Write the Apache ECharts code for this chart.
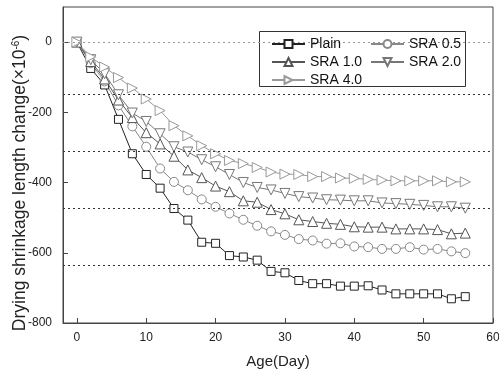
<!DOCTYPE html>
<html>
<head>
<meta charset="utf-8">
<script src="https://cdn.jsdelivr.net/npm/echarts@6/dist/echarts.min.js"></script>
<style>
  html, body { margin: 0; padding: 0; background: #fff; }
  #chart { width: 499px; height: 373px; }
</style>
</head>
<body>
<div id="chart"></div>
<script>
// Age in days
const days = [0, 2, 4, 6, 8, 10, 12, 14, 16, 18, 20, 22, 24, 26, 28, 30, 32, 34, 36, 38, 40, 42, 44, 46, 48, 50, 52, 54, 56];

// Drying shrinkage (×10^-6) per mix
const plain  = [0, -75, -122, -220, -318, -377, -416, -474, -507, -570, -573, -608, -612, -621, -653, -657, -679, -688, -688, -695, -695, -694, -706, -717, -717, -717, -717, -731, -725];
const sra05  = [0, -60, -112, -180, -240, -298, -360, -398, -422, -448, -469, -488, -506, -523, -539, -549, -561, -565, -574, -573, -582, -584, -589, -589, -584, -591, -589, -596, -601];
const sra10  = [0, -55, -105, -165, -215, -258, -290, -325, -364, -386, -410, -426, -452, -456, -477, -489, -506, -511, -516, -519, -526, -527, -527, -532, -532, -532, -534, -546, -544];
const sra20  = [0, -50, -90, -150, -202, -226, -261, -298, -313, -335, -355, -377, -400, -414, -421, -431, -440, -444, -449, -450, -452, -452, -458, -460, -462, -465, -469, -469, -473];
const sra40  = [0, -42, -71, -101, -131, -162, -195, -238, -267, -295, -318, -337, -346, -357, -370, -376, -377, -383, -383, -387, -388, -391, -393, -395, -395, -395, -395, -398, -398];

// Tick labels
const xTicks = [0, 10, 20, 30, 40, 50, 60];
const yTicks = [-800, -600, -400, -200, 0];

// Dotted reference levels
const refLevels = [-148, -310, -472, -636];
const zeroLevel = [0];

const FONT = 'Liberation Sans, Arial, sans-serif';

function pairs(vals) { return days.map((d, i) => [d, vals[i]]); }

function makeSeries(name, vals, color, symbol, size, rotate) {
  return {
    name: name,
    type: 'line',
    data: pairs(vals),
    symbol: symbol,
    symbolSize: size,
    symbolRotate: rotate || 0,
    showAllSymbol: true,
    lineStyle: { color: color, width: 1 },
    itemStyle: { color: '#fff', borderColor: color, borderWidth: 1 },
    emphasis: { disabled: true },
    animation: false,
    z: 3
  };
}

const chart = echarts.init(document.getElementById('chart'), null, { renderer: 'canvas' });

const series = [
  {
    name: 'refs',
    type: 'line',
    data: [],
    silent: true,
    animation: false,
    z: 1,
    markLine: {
      silent: true,
      symbol: 'none',
      label: { show: false },
      animation: false,
      data: refLevels.map(v => ({ yAxis: v, lineStyle: { type: [2, 3], color: '#333', width: 1 } }))
        .concat(zeroLevel.map(v => ({ yAxis: v, lineStyle: { type: [2, 3], color: '#999', width: 1 } })))
    }
  },
  makeSeries('Plain', plain, '#222', 'rect', 8),
  makeSeries('SRA 0.5', sra05, '#888', 'circle', 9),
  makeSeries('SRA 1.0', sra10, '#555', 'triangle', 10),
  makeSeries('SRA 2.0', sra20, '#777', 'triangle', 10, 180),
  makeSeries('SRA 4.0', sra40, '#999', 'triangle', 10, -90)
];

const legendCommon = {
  orient: 'vertical',
  padding: 0,
  itemWidth: 33,
  itemHeight: 10,
  itemGap: 4,
  selectedMode: false,
  textStyle: { fontFamily: FONT, fontSize: 14, color: '#111', lineHeight: 14 },
  z: 6
};

chart.setOption({
  animation: false,
  backgroundColor: '#fff',
  grid: {
    left: 63, right: 6, top: 7, bottom: 50,
    outerBoundsMode: 'none',
    containLabel: false,
    show: true, borderColor: '#444', borderWidth: 1, backgroundColor: 'transparent'
  },
  xAxis: {
    type: 'value',
    min: -2, max: 60,
    name: 'Age(Day)',
    nameLocation: 'middle',
    nameGap: 31,
    nameMoveOverlap: false,
    nameTextStyle: { fontFamily: FONT, fontSize: 15, color: '#222' },
    axisLine: { show: true, onZero: false, lineStyle: { color: '#444' } },
    axisTick: { show: true, inside: true, length: 5, customValues: xTicks, lineStyle: { color: '#444' } },
    axisLabel: { customValues: xTicks, fontFamily: FONT, fontSize: 12, color: '#222', margin: 9 },
    splitLine: { show: false }
  },
  yAxis: {
    type: 'value',
    min: -800, max: 100,
    name: 'Drying shrinkage length change(×10{sup|-6})',
    nameLocation: 'middle',
    nameRotate: 90,
    nameGap: 34,
    nameMoveOverlap: false,
    nameTextStyle: {
      fontFamily: FONT, fontSize: 17.5, color: '#222',
      padding: [0, 36, 0, 0],
      rich: { sup: { fontFamily: FONT, fontSize: 10, verticalAlign: 'top', padding: [0, 0, 8, 0], color: '#222' } }
    },
    axisLine: { show: true, onZero: false, lineStyle: { color: '#444' } },
    axisTick: { show: true, inside: true, length: 5, customValues: yTicks, lineStyle: { color: '#444' } },
    axisLabel: { customValues: yTicks, fontFamily: FONT, fontSize: 12, color: '#222', margin: 11 },
    splitLine: { show: false }
  },
  graphic: [{
    type: 'rect',
    z: 5,
    shape: { x: 259.5, y: 31.5, width: 206, height: 55 },
    style: { fill: '#fff', stroke: '#333', lineWidth: 1 }
  }],
  legend: [
    Object.assign({}, legendCommon, { left: 271, top: 37, data: ['Plain', 'SRA 1.0', 'SRA 4.0'] }),
    Object.assign({}, legendCommon, { left: 370, top: 37, data: ['SRA 0.5', 'SRA 2.0'] })
  ],
  series: series
});
</script>
</body>
</html>
